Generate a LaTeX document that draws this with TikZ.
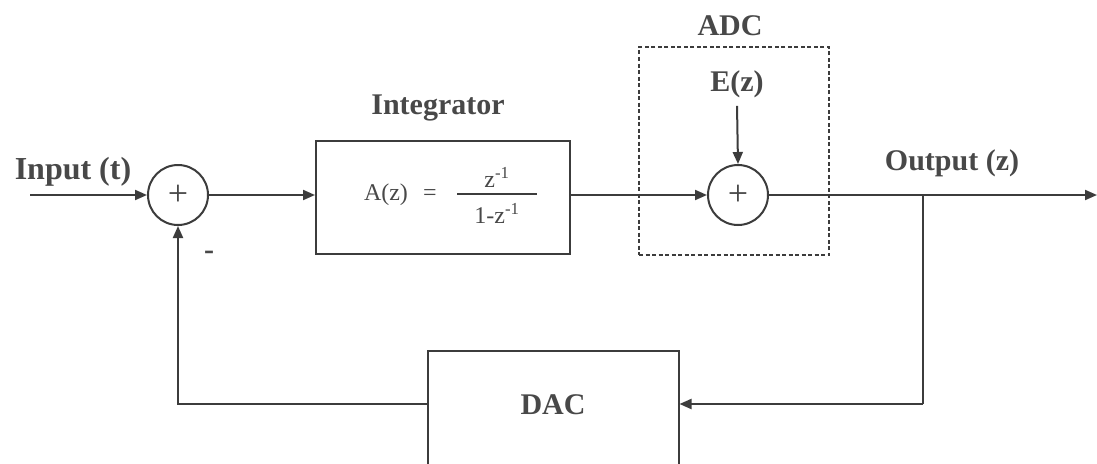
\documentclass[tikz,border=0pt]{standalone}
\usepackage{fontspec}
\setmainfont{Liberation Serif}
\usetikzlibrary{arrows.meta}
\definecolor{lc}{HTML}{3C3C3C}
\definecolor{tc}{HTML}{484848}
\begin{document}
\begin{tikzpicture}[x=1pt,y=-1pt,
  sumnode/.style={circle, draw=lc, line width=2pt, minimum size=60pt, inner sep=0pt, text=tc, font=\fontsize{36}{36}\selectfont},
  blockbox/.style={rectangle, draw=lc, line width=2pt, inner sep=0pt},
  adcbox/.style={rectangle, draw=lc, line width=2pt, dash pattern=on 4pt off 2.5pt, inner sep=0pt},
  lbl/.style={text=tc, inner sep=0pt, font=\fontsize{30}{30}\selectfont\bfseries},
  ftext/.style={text=tc, inner sep=0pt, font=\fontsize{24}{24}\selectfont},
  wire/.style={draw=lc, line width=2pt},
  conn/.style={wire, -{Triangle[length=12pt,width=10pt]}}
]
\useasboundingbox (0,0) rectangle (1097,463);
\clip (0,0) rectangle (1097,463);
\fill[white] (0,0) rectangle (1097,463);

% blocks
\node[sumnode] (s1) at (178,195) {+};
\node[blockbox, minimum width=254pt, minimum height=113pt] (int) at (443,197) {};
\node[adcbox, minimum width=190pt, minimum height=208pt] (adc) at (734,151) {};
\node[sumnode] (s2) at (738,195) {+};
\node[blockbox, minimum width=251pt, minimum height=122pt] (dac) at (553,412) {};

% labels
\node[lbl, font=\fontsize{32}{32}\selectfont\bfseries] (lin) at (73,172) {Input (t)};
\node[lbl] (lint) at (438,108) {Integrator};
\node[lbl] (ladc) at (730,26) {ADC};
\node[lbl] (ez) at (737,84) {E(z)};
\node[lbl] (lout) at (952,163) {Output (z)};
\node[lbl] (ldac) at (553,405) {DAC};
\node[lbl] (lminus) at (209,255) {-};

% formula
\node[ftext] (az) at (386,195) {A(z)};
\node[ftext] (eq) at (430,195) {=};
\node[ftext] (num) at (497,177) {z\textsuperscript{-1}};
\node[ftext] (den) at (497,213) {1-z\textsuperscript{-1}};
\draw[lc, line width=1.5pt] (457,194) -- (537,194);

% coordinates
\coordinate (in) at (30,195);
\coordinate (out) at (1097,195);
\coordinate (br) at (923,195);
\coordinate (brd) at (923,404);
\coordinate (fbl) at (178,404);

% connectors
\draw[conn] (in) -- (s1);
\draw[conn] (s1) -- (int.west |- s1);
\draw[conn] (int.east |- s2) -- (s2);
\draw[conn] (ez.south) ++(0,8) -- (s2.north);
\draw[conn] (s2) -- (out);
\draw[wire] (br) -- (brd);
\draw[conn] (brd) -- (brd -| dac.east);
\draw[conn] (fbl -| dac.west) -- (fbl) -- (s1.south);
\end{tikzpicture}
\end{document}
